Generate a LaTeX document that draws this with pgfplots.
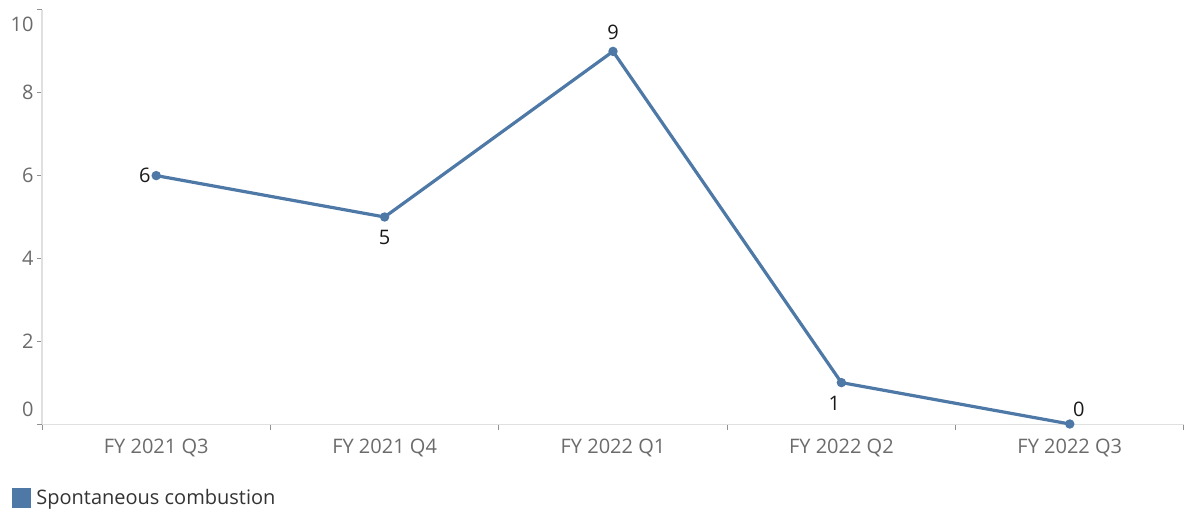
\documentclass[border=0pt]{standalone}
\usepackage{pgfplots}
\pgfplotsset{compat=1.18}
\usepackage{fontspec}
\setmainfont{Open Sans}
\definecolor{tabblue}{HTML}{4E79A7}
\definecolor{lblgray}{HTML}{6B6B6B}
\definecolor{axgray}{HTML}{E0E0E0}
\definecolor{tickgray}{HTML}{909090}
\begin{document}
\begin{tikzpicture}[x=1pt,y=1pt]
\path[use as bounding box] (0,0) rectangle (1185,511);
\begin{axis}[
  at={(42pt,87pt)}, anchor=south west,
  width=1142pt, height=414pt, scale only axis,
  xmin=-0.5, xmax=4.5, ymin=0, ymax=10,
  axis x line*=bottom, axis y line*=left,
  x axis line style={draw=axgray, line width=1pt, -},
  y axis line style={draw=axgray, line width=1.5pt, -},
  tick align=outside,
  xtick={0,...,4},
  xticklabels={FY 2021 Q3, FY 2021 Q4, FY 2022 Q1, FY 2022 Q2, FY 2022 Q3},
  major x tick style={draw=none},
  minor xtick={-0.5,0.5,...,4.5},
  minor x tick style={draw=tickgray, line width=1pt},
  minor tick length=6pt,
  ytick={0,2,...,10},
  yticklabels={\smash{\raisebox{7pt}{0}},2,4,6,8,\smash{\raisebox{-22pt}{10}}},
  major y tick style={draw=tickgray, line width=1pt},
  major tick length=5pt,
  tick label style={font=\fontsize{20}{22}\selectfont, text=lblgray},
  xticklabel style={yshift=-6pt},
  /pgf/number format/assume math mode=true,
  legend style={at={(axis description cs:-0.0263,-0.178)}, anchor=west, draw=none, fill=none, inner sep=0pt,
    font=\fontsize{20}{22}\selectfont, text=black!80},
  legend cell align=left,
  legend image code/.code={\fill[tabblue] (0pt,-8.5pt) rectangle (16pt,8.5pt);},
  nodes near coords style={font=\fontsize{20}{22}\selectfont, text=black!90},
]
\addplot[tabblue, line width=3.2pt, mark=*, mark size=3pt, mark options={solid}] coordinates {(0,6)(1,5)(2,9)(3,1)(4,0)};
\addlegendentry{\hspace{3pt}Spontaneous combustion}
\addplot[forget plot, draw=none, nodes near coords, every node near coord/.append style={anchor=east, xshift=-2pt}] coordinates {(0,6)};
\addplot[forget plot, draw=none, nodes near coords, every node near coord/.append style={anchor=north, yshift=-10pt}] coordinates {(1,5)};
\addplot[forget plot, draw=none, nodes near coords, every node near coord/.append style={anchor=south, yshift=8pt}] coordinates {(2,9)};
\addplot[forget plot, draw=none, nodes near coords, every node near coord/.append style={anchor=north, xshift=-7pt, yshift=-10pt}] coordinates {(3,1)};
\addplot[forget plot, draw=none, nodes near coords, every node near coord/.append style={anchor=south, xshift=9pt, yshift=4pt}] coordinates {(4,0)};
\end{axis}
\end{tikzpicture}
\end{document}
